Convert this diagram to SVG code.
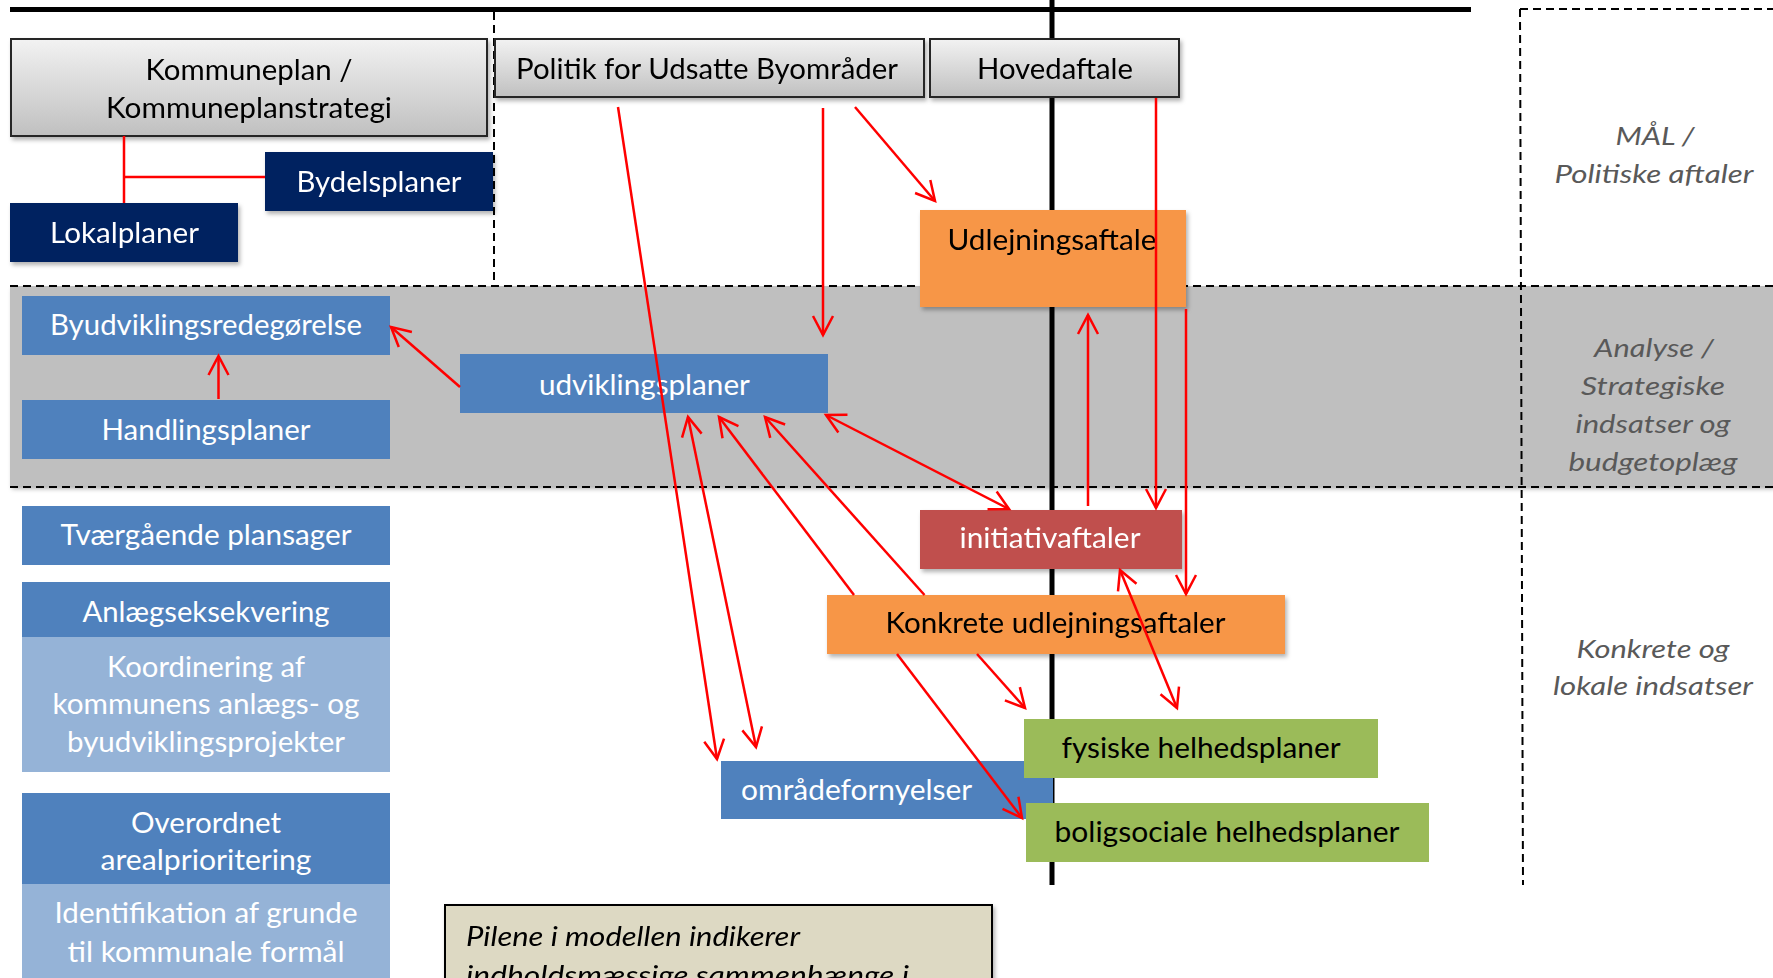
<svg xmlns="http://www.w3.org/2000/svg" width="1773" height="978" viewBox="0 0 1773 978">
<defs>
  <linearGradient id="gg" x1="0" y1="0" x2="0" y2="1">
    <stop offset="0" stop-color="#f2f2f2"/>
    <stop offset="1" stop-color="#c0c0c0"/>
  </linearGradient>
  <filter id="sh" x="-10%" y="-10%" width="130%" height="150%">
    <feDropShadow dx="2" dy="3" stdDeviation="2" flood-color="#000" flood-opacity="0.3"/>
  </filter>
  <marker id="ah" markerUnits="userSpaceOnUse" orient="auto-start-reverse" refX="0" refY="0" markerWidth="30" markerHeight="30" viewBox="-25 -15 30 30" overflow="visible">
    <path d="M-19,-10 L0,0 L-19,10" fill="none" stroke="#ff0000" stroke-width="2.5"/>
  </marker>
</defs>
<style>
  .t{font-family:Lato,"Open Sans",sans-serif;font-size:28px;text-anchor:middle}
  .w{fill:#ffffff}
  .k{fill:#000000}
  .lab{font-family:Lato,"Open Sans",sans-serif;font-style:italic;font-size:26px;fill:#595959;text-anchor:middle}
  .note{font-family:Lato,"Open Sans",sans-serif;font-style:italic;font-size:27px;fill:#000}
  .c{fill:none;stroke:#ff0000;stroke-width:2.5}
  .dash{fill:none;stroke:#000;stroke-width:2;stroke-dasharray:8 5}
  .gray{fill:url(#gg);stroke:#262626;stroke-width:2}
  .navy{fill:#002060}
  .blue{fill:#4f81bd}
  .lblue{fill:#95b3d7}
  .orange{fill:#f79646}
  .red{fill:#c0504d}
  .green{fill:#9bbb59}
</style>
<rect width="1773" height="978" fill="#ffffff"/>

<!-- background bands and rules -->
<g id="background">
  <rect x="10" y="286" width="1763" height="200" fill="#bfbfbf" filter="url(#sh)"/>
  <line class="dash" x1="10" y1="286" x2="1773" y2="286"/>
  <line class="dash" x1="10" y1="487" x2="1773" y2="487"/>
  <line class="dash" x1="494" y1="12" x2="494" y2="286"/>
  <line class="dash" x1="1520" y1="9" x2="1773" y2="9"/>
  <line class="dash" x1="1520" y1="9" x2="1523" y2="885"/>
  <line x1="10" y1="9.5" x2="1471" y2="9.5" stroke="#000" stroke-width="5"/>
  <line x1="1052" y1="0" x2="1052" y2="885" stroke="#000" stroke-width="5"/>
</g>

<!-- right side labels -->
<g id="labels">
  <text class="lab" x="1655" y="145" textLength="79" lengthAdjust="spacingAndGlyphs">MÅL /</text>
  <text class="lab" x="1654" y="183" textLength="199" lengthAdjust="spacingAndGlyphs">Politiske aftaler</text>
  <text class="lab" x="1654" y="357" textLength="120" lengthAdjust="spacingAndGlyphs">Analyse /</text>
  <text class="lab" x="1653" y="395" textLength="144" lengthAdjust="spacingAndGlyphs">Strategiske</text>
  <text class="lab" x="1653" y="433" textLength="155" lengthAdjust="spacingAndGlyphs">indsatser og</text>
  <text class="lab" x="1653" y="471" textLength="169" lengthAdjust="spacingAndGlyphs">budgetoplæg</text>
  <text class="lab" x="1653" y="658" textLength="153" lengthAdjust="spacingAndGlyphs">Konkrete og</text>
  <text class="lab" x="1653" y="695" textLength="200" lengthAdjust="spacingAndGlyphs">lokale indsatser</text>
</g>

<!-- nodes -->
<g id="kommuneplan" filter="url(#sh)">
  <rect class="gray" x="11" y="39" width="476" height="97"/>
  <text class="t k" x="249" y="80" textLength="207" lengthAdjust="spacingAndGlyphs">Kommuneplan /</text>
  <text class="t k" x="249" y="118" textLength="286" lengthAdjust="spacingAndGlyphs">Kommuneplanstrategi</text>
</g>
<g id="politik" filter="url(#sh)">
  <rect class="gray" x="495" y="39" width="429" height="58"/>
  <text class="t k" x="707" y="79" textLength="382" lengthAdjust="spacingAndGlyphs">Politik for Udsatte Byområder</text>
</g>
<g id="hovedaftale" filter="url(#sh)">
  <rect class="gray" x="930" y="39" width="249" height="58"/>
  <text class="t k" x="1055" y="79" textLength="156" lengthAdjust="spacingAndGlyphs">Hovedaftale</text>
</g>
<g id="bydelsplaner" filter="url(#sh)">
  <rect class="navy" x="265" y="152" width="228" height="59"/>
  <text class="t w" x="379" y="192" textLength="165" lengthAdjust="spacingAndGlyphs">Bydelsplaner</text>
</g>
<g id="lokalplaner" filter="url(#sh)">
  <rect class="navy" x="10" y="203" width="228" height="59"/>
  <text class="t w" x="124.5" y="243" textLength="149" lengthAdjust="spacingAndGlyphs">Lokalplaner</text>
</g>
<g id="byudviklingsredegoerelse">
  <rect class="blue" x="22" y="296" width="368" height="59"/>
  <text class="t w" x="206" y="335" textLength="312" lengthAdjust="spacingAndGlyphs">Byudviklingsredegørelse</text>
</g>
<g id="handlingsplaner">
  <rect class="blue" x="22" y="400" width="368" height="59"/>
  <text class="t w" x="206" y="440" textLength="209" lengthAdjust="spacingAndGlyphs">Handlingsplaner</text>
</g>
<g id="udviklingsplaner">
  <rect class="blue" x="460" y="354" width="368" height="59"/>
  <text class="t w" x="644.4" y="395" textLength="211" lengthAdjust="spacingAndGlyphs">udviklingsplaner</text>
</g>
<g id="udlejningsaftale" filter="url(#sh)">
  <rect class="orange" x="920" y="210" width="266" height="97"/>
  <text class="t k" x="1052" y="250" textLength="209" lengthAdjust="spacingAndGlyphs">Udlejningsaftale</text>
</g>
<g id="initiativaftaler" filter="url(#sh)">
  <rect class="red" x="920" y="510" width="262" height="59"/>
  <text class="t w" x="1050" y="548" textLength="181" lengthAdjust="spacingAndGlyphs">initiativaftaler</text>
</g>
<g id="konkrete" filter="url(#sh)">
  <rect class="orange" x="827" y="595" width="458" height="59"/>
  <text class="t k" x="1055.5" y="633" textLength="340" lengthAdjust="spacingAndGlyphs">Konkrete udlejningsaftaler</text>
</g>
<g id="omraadefornyelser">
  <rect class="blue" x="721" y="761" width="332" height="58"/>
  <text class="t w" x="856.6" y="800" textLength="231" lengthAdjust="spacingAndGlyphs">områdefornyelser</text>
</g>
<g id="fysiske">
  <rect class="green" x="1024" y="719" width="354" height="59"/>
  <text class="t k" x="1201" y="758" textLength="279" lengthAdjust="spacingAndGlyphs">fysiske helhedsplaner</text>
</g>
<g id="boligsociale">
  <rect class="green" x="1026" y="803" width="403" height="59"/>
  <text class="t k" x="1227" y="842" textLength="345" lengthAdjust="spacingAndGlyphs">boligsociale helhedsplaner</text>
</g>
<g id="tvaergaaende">
  <rect class="blue" x="22" y="506" width="368" height="59"/>
  <text class="t w" x="206" y="545" textLength="291" lengthAdjust="spacingAndGlyphs">Tværgående plansager</text>
</g>
<g id="anlaeg">
  <rect class="blue" x="22" y="582" width="368" height="55"/>
  <rect class="lblue" x="22" y="637" width="368" height="135"/>
  <text class="t w" x="206" y="621.7" textLength="247" lengthAdjust="spacingAndGlyphs">Anlægseksekvering</text>
  <text class="t w" x="206" y="676.7" textLength="198" lengthAdjust="spacingAndGlyphs">Koordinering af</text>
  <text class="t w" x="206" y="714" textLength="307" lengthAdjust="spacingAndGlyphs">kommunens anlægs- og</text>
  <text class="t w" x="206" y="751.7" textLength="278" lengthAdjust="spacingAndGlyphs">byudviklingsprojekter</text>
</g>
<g id="overordnet">
  <rect class="blue" x="22" y="793" width="368" height="91"/>
  <rect class="lblue" x="22" y="884" width="368" height="100"/>
  <text class="t w" x="206" y="832.7" textLength="150" lengthAdjust="spacingAndGlyphs">Overordnet</text>
  <text class="t w" x="206" y="870" textLength="211" lengthAdjust="spacingAndGlyphs">arealprioritering</text>
  <text class="t w" x="206" y="922.7" textLength="303" lengthAdjust="spacingAndGlyphs">Identifikation af grunde</text>
  <text class="t w" x="206" y="961.7" textLength="277" lengthAdjust="spacingAndGlyphs">til kommunale formål</text>
</g>
<g id="note" filter="url(#sh)">
  <rect x="445" y="905" width="547" height="100" fill="#ddd9c3" stroke="#000" stroke-width="2"/>
  <text class="note" x="466" y="946" textLength="334" lengthAdjust="spacingAndGlyphs">Pilene i modellen indikerer</text>
  <text class="note" x="466" y="985" textLength="443" lengthAdjust="spacingAndGlyphs">indholdsmæssige sammenhænge i</text>
</g>

<!-- connectors -->
<g id="connectors">
  <path class="c" d="M124,136 V203 M124,177 H265"/>
  <line class="c" x1="218.5" y1="399" x2="218.5" y2="356" marker-end="url(#ah)"/>
  <line class="c" x1="460" y1="387" x2="391" y2="327" marker-end="url(#ah)"/>
  <line class="c" x1="618" y1="107" x2="717" y2="759" marker-end="url(#ah)"/>
  <line class="c" x1="823" y1="108" x2="823" y2="335" marker-end="url(#ah)"/>
  <line class="c" x1="855" y1="107" x2="935" y2="201" marker-end="url(#ah)"/>
  <line class="c" x1="1156" y1="98" x2="1156" y2="508" marker-end="url(#ah)"/>
  <line class="c" x1="1186" y1="309" x2="1186" y2="594" marker-end="url(#ah)"/>
  <line class="c" x1="1088" y1="506" x2="1088" y2="315" marker-end="url(#ah)"/>
  <line class="c" x1="826" y1="415" x2="1009" y2="509" marker-start="url(#ah)" marker-end="url(#ah)"/>
  <line class="c" x1="688" y1="417" x2="756" y2="747" marker-start="url(#ah)" marker-end="url(#ah)"/>
  <line class="c" x1="719" y1="417" x2="854" y2="595" marker-start="url(#ah)"/>
  <line class="c" x1="897" y1="654" x2="1022" y2="818" marker-end="url(#ah)"/>
  <line class="c" x1="765" y1="417" x2="924.5" y2="595" marker-start="url(#ah)"/>
  <line class="c" x1="977" y1="654" x2="1025" y2="708" marker-end="url(#ah)"/>
  <line class="c" x1="1120" y1="570" x2="1177" y2="708" marker-start="url(#ah)" marker-end="url(#ah)"/>
</g>
</svg>
